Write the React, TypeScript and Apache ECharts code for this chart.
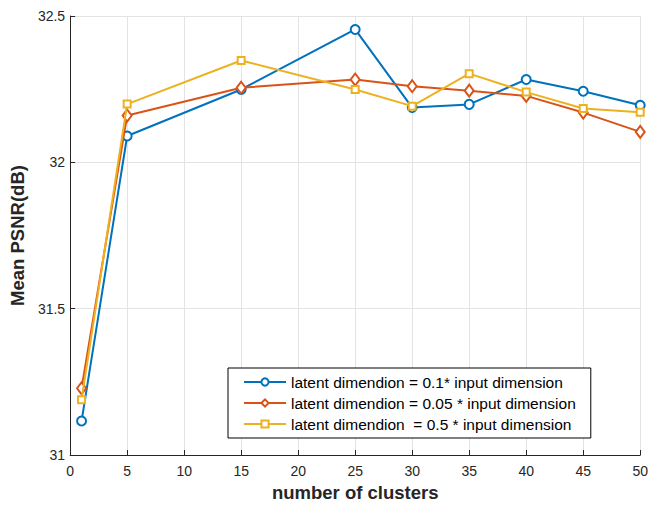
import React, { useEffect, useRef } from "react";
import * as echarts from "echarts";

const clusters = [1, 5, 15, 25, 30, 35, 40, 45, 50];
const seriesNames = [
  "latent dimendion = 0.1* input dimension",
  "latent dimendion = 0.05 * input dimension",
  "latent dimendion  = 0.5 * input dimension",
];
const psnr01 = [31.116, 32.09, 32.249, 32.454, 32.187, 32.198, 32.283, 32.243, 32.195];
const psnr005 = [31.228, 32.16, 32.255, 32.283, 32.26, 32.245, 32.227, 32.17, 32.104];
const psnr05 = [31.189, 32.199, 32.348, 32.249, 32.192, 32.303, 32.24, 32.184, 32.171];
const colors = ["#0072BD", "#D95319", "#EDB120"];
const symbols = ["emptyCircle", "emptyDiamond", "emptyRect"];
const symbolSizes = [9, [9, 12], 7];

const FONT = "'Liberation Sans', Arial, Helvetica, sans-serif";

export default function App() {
  const ref = useRef<HTMLDivElement>(null);
  useEffect(() => {
    if (!ref.current) return;
    const chart = echarts.init(ref.current, null, { renderer: "svg" });
    const values = [psnr01, psnr005, psnr05];
    chart.setOption({
      animation: false,
      backgroundColor: "#ffffff",
      textStyle: { fontFamily: FONT },
      grid: { left: 66.5, right: 7, top: 16, bottom: 49, containLabel: false },
      legend: {
        orient: "vertical",
        left: 228,
        top: 368,
        data: seriesNames,
        backgroundColor: "#ffffff",
        borderColor: "#000000",
        borderWidth: 1,
        borderRadius: 0,
        padding: [6, 15, 6, 15],
        itemGap: 5,
        itemWidth: 42,
        itemHeight: 9,
        textStyle: { fontFamily: FONT, fontSize: 15.5, color: "#000000" },
      },
      xAxis: {
        type: "value",
        min: 0,
        max: 50,
        interval: 5,
        name: "number of clusters",
        nameLocation: "middle",
        nameGap: 28,
        nameTextStyle: { fontFamily: FONT, fontSize: 18.5, fontWeight: "bold", color: "#262626" },
        axisLine: { show: true, lineStyle: { color: "#262626", width: 1 } },
        axisTick: { show: true, inside: true, length: 5, lineStyle: { color: "#262626" } },
        axisLabel: { fontFamily: FONT, fontSize: 14, color: "#262626", margin: 9 },
        splitLine: { show: true, lineStyle: { color: "#e3e3e3", width: 1 } },
      },
      yAxis: {
        type: "value",
        min: 31,
        max: 32.5,
        interval: 0.5,
        name: "Mean PSNR(dB)",
        nameLocation: "middle",
        nameGap: 40,
        nameTextStyle: { fontFamily: FONT, fontSize: 18.5, fontWeight: "bold", color: "#262626" },
        axisLine: { show: true, lineStyle: { color: "#262626", width: 1 } },
        axisTick: { show: true, inside: true, length: 5, lineStyle: { color: "#262626" } },
        axisLabel: { fontFamily: FONT, fontSize: 14, color: "#262626", margin: 5 },
        splitLine: { show: true, lineStyle: { color: "#e3e3e3", width: 1 } },
      },
      series: seriesNames.map((name, i) => ({
        name,
        type: "line",
        data: clusters.map((c, j) => [c, values[i][j]]),
        symbol: symbols[i],
        symbolSize: symbolSizes[i],
        showAllSymbol: true,
        lineStyle: { color: colors[i], width: 2 },
        itemStyle: { color: colors[i], borderColor: colors[i], borderWidth: 2 },
        z: 3 + i,
      })),
    });
    return () => chart.dispose();
  }, []);
  return <div ref={ref} style={{ width: 651, height: 507, position: "absolute", left: 0, top: 0 }} />;
}
